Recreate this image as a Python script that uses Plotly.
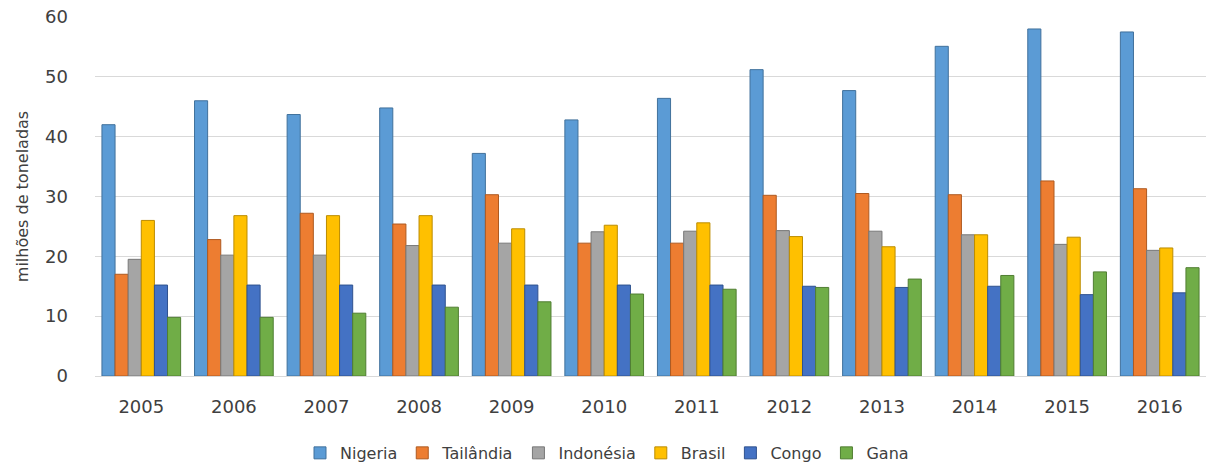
import plotly.graph_objects as go

anos = ["2005", "2006", "2007", "2008", "2009", "2010", "2011", "2012", "2013", "2014", "2015", "2016"]
nigeria = [42.0, 46.0, 43.7, 44.8, 37.2, 42.8, 46.4, 51.2, 47.7, 55.1, 58.0, 57.5]
tailandia = [17.0, 22.8, 27.2, 25.4, 30.3, 22.2, 22.2, 30.2, 30.5, 30.3, 32.6, 31.3]
indonesia = [19.5, 20.2, 20.2, 21.8, 22.2, 24.1, 24.2, 24.3, 24.2, 23.6, 22.0, 21.0]
brasil = [26.0, 26.8, 26.8, 26.8, 24.6, 25.2, 25.6, 23.3, 21.6, 23.6, 23.2, 21.4]
congo = [15.2, 15.2, 15.2, 15.2, 15.2, 15.2, 15.2, 15.0, 14.8, 15.0, 13.6, 13.9]
gana = [9.8, 9.8, 10.5, 11.5, 12.4, 13.7, 14.5, 14.8, 16.2, 16.8, 17.4, 18.1]

series = [
    ("Nigeria", nigeria, "#5B9BD5", "#41719C"),
    ("Tailândia", tailandia, "#ED7D31", "#AE5A21"),
    ("Indonésia", indonesia, "#A5A5A5", "#787878"),
    ("Brasil", brasil, "#FFC000", "#BC8C00"),
    ("Congo", congo, "#4472C4", "#2F528F"),
    ("Gana", gana, "#70AD47", "#507E32"),
]

fig = go.Figure()
for name, vals, col, edge in series:
    fig.add_trace(go.Bar(
        x=anos, y=vals, name=name,
        marker=dict(color=col, line=dict(color=edge, width=1)),
    ))

fig.update_layout(
    width=1214, height=466,
    margin=dict(l=95, r=8, t=17, b=90, autoexpand=False),
    paper_bgcolor="white", plot_bgcolor="white",
    barmode="group", bargap=0.15, bargroupgap=0.0,
    font=dict(family="DejaVu Sans, sans-serif", color="#404040"),
    xaxis=dict(
        tickfont=dict(size=18, color="#404040"),
        showgrid=False, showline=True, linecolor="#D9D9D9", ticks="",
        ticklabelstandoff=14,
    ),
    yaxis=dict(
        range=[0, 60], dtick=10, tickfont=dict(size=18, color="#404040"),
        gridcolor="#D9D9D9", gridwidth=1, zeroline=False,
        title=dict(text="milhões de toneladas", font=dict(size=16, color="#404040"), standoff=12),
        ticks="", ticklabelstandoff=26,
    ),
    legend=dict(
        orientation="h", x=0.5, xref="container", xanchor="center",
        y=0.028, yref="container", yanchor="middle",
        font=dict(size=16, color="#404040"), traceorder="normal",
        itemwidth=30,
    ),
)

fig.write_html("out.html")
